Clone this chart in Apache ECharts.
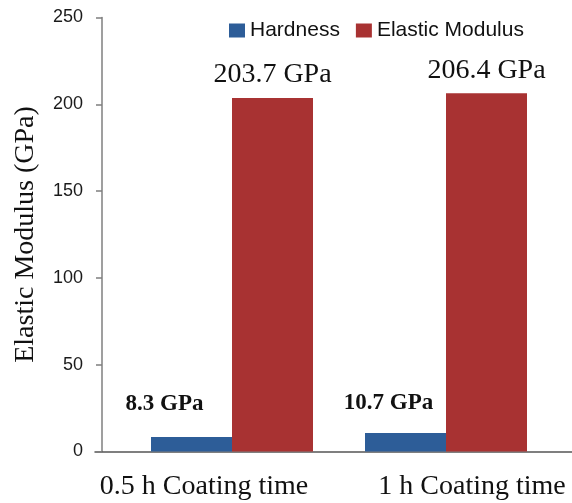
<!DOCTYPE html>
<html>
<head>
<meta charset="utf-8">
<script src="https://cdn.jsdelivr.net/npm/echarts@6/dist/echarts.min.js"></script>
<style>
  html, body { margin: 0; padding: 0; background: #ffffff; }
  #chart { width: 572px; height: 503px; }
</style>
</head>
<body>
<div id="chart"></div>
<script>
// Coating time groups and measured properties (GPa)
const categories = ['0.5 h Coating time', '1 h Coating time'];
const hardness = [8.3, 10.7];
const elasticModulus = [203.7, 206.4];
const yMin = 0, yMax = 250, yStep = 50;

// Per-item label nudges for the hardness values and the category captions
const hardnessLabelShift = [[-27, -22], [-17, -18]];
const categoryShift = [-28, 26];

const SERIF = '"Liberation Serif", "Times New Roman", serif';
const SANS = '"Liberation Sans", Arial, sans-serif';
const BLUE = '#2D5D98';
const RED = '#A83232';
const AXIS = '#7f7f7f';

const richCats = {};
categoryShift.forEach((s, i) => {
  richCats['c' + i] = {
    fontFamily: SERIF, fontSize: 28, color: '#111',
    padding: s < 0 ? [0, -2 * s, 0, 0] : [0, 0, 0, 2 * s]
  };
});

const chart = echarts.init(document.getElementById('chart'), null, { renderer: 'canvas' });
chart.setOption({
  backgroundColor: '#ffffff',
  animation: false,
  legend: {
    top: 20, left: 229, padding: 0,
    itemWidth: 16, itemHeight: 14, itemGap: 16,
    icon: 'rect',
    textStyle: { fontFamily: SANS, fontSize: 21, color: '#111' },
    data: ['Hardness', 'Elastic Modulus']
  },
  grid: [
    { left: 125, right: 19, top: 17.5, bottom: 51.5 },
    { left: 95, right: 0, top: 17.5, bottom: 51.5 }
  ],
  xAxis: [
    {
      type: 'category', gridIndex: 0, data: categories,
      axisLine: { show: false }, axisTick: { show: false },
      axisLabel: {
        margin: 21,
        formatter: (v, i) => '{c' + i + '|' + v + '}',
        rich: richCats
      }
    },
    {
      type: 'value', gridIndex: 1, min: 0, max: 1,
      axisLine: { show: true, lineStyle: { color: '#555', width: 1.5 } },
      axisTick: { show: false }, axisLabel: { show: false }, splitLine: { show: false }
    }
  ],
  yAxis: [
    {
      type: 'value', gridIndex: 0, min: yMin, max: yMax, interval: yStep,
      offset: 23,
      name: 'Elastic Modulus (GPa)', nameLocation: 'middle', nameGap: 62,
      nameTextStyle: { fontFamily: SERIF, fontSize: 28, color: '#111' },
      axisLine: { show: true, lineStyle: { color: AXIS, width: 1.5 } },
      axisTick: { show: true, inside: false, length: 6, lineStyle: { color: AXIS, width: 1.5 } },
      axisLabel: { margin: 19, fontFamily: SANS, fontSize: 18, color: '#1a1a1a' },
      splitLine: { show: false }
    },
    { type: 'value', gridIndex: 1, show: false, min: 0, max: 1 }
  ],
  series: [
    {
      name: 'Hardness', type: 'bar', xAxisIndex: 0, yAxisIndex: 0,
      barWidth: 81, barGap: '0%',
      itemStyle: { color: BLUE },
      data: hardness.map((v, i) => ({
        value: v,
        label: { offset: hardnessLabelShift[i] }
      })),
      label: {
        show: true, position: 'top', distance: 0,
        formatter: p => p.value + ' GPa',
        fontFamily: SERIF, fontSize: 23, fontWeight: 'bold', color: '#111'
      }
    },
    {
      name: 'Elastic Modulus', type: 'bar', xAxisIndex: 0, yAxisIndex: 0,
      barWidth: 81, barGap: '0%',
      itemStyle: { color: RED },
      data: elasticModulus,
      label: {
        show: true, position: 'top', distance: 9,
        formatter: p => p.value + ' GPa',
        fontFamily: SERIF, fontSize: 28, color: '#111'
      }
    }
  ]
});
</script>
</body>
</html>
